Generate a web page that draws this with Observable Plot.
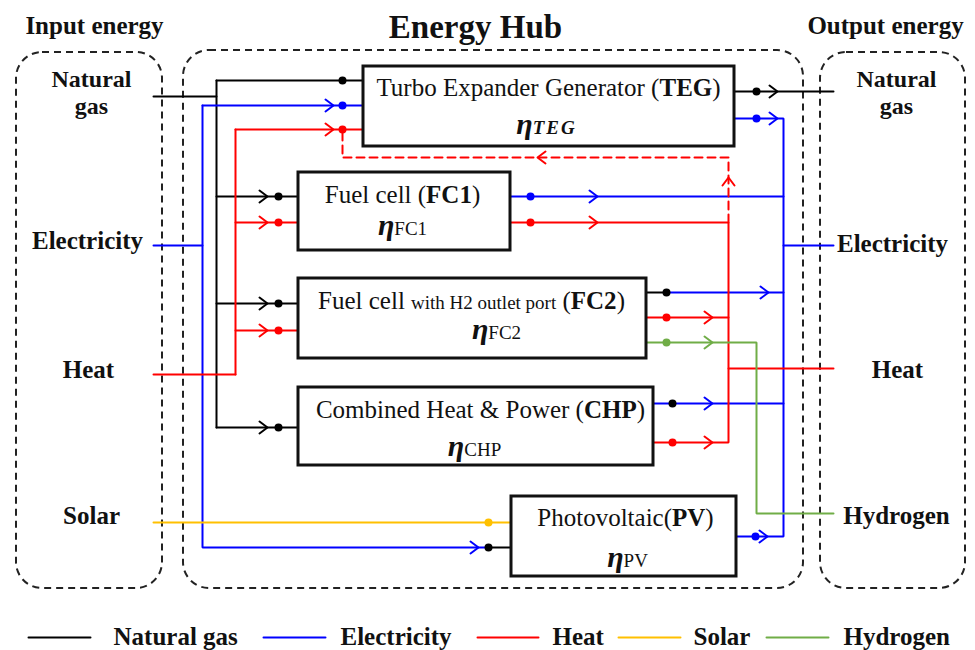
<!DOCTYPE html>
<html><head><meta charset="utf-8">
<script src="https://cdn.jsdelivr.net/npm/d3@7"></script>
<script src="https://cdn.jsdelivr.net/npm/@observablehq/plot@0.6"></script>
<style>body{margin:0;background:#fff}</style>
</head><body><div id="chart"></div>
<script>
// ---------- data ----------
const carriers = ["Natural gas", "Electricity", "Heat", "Solar", "Hydrogen"];
const carrierColors = ["#000000", "#0000ff", "#ff0000", "#ffc000", "#70ad47"];

const titles = ["Input energy", "Energy Hub", "Output energy"];
const gasLabel = "Natural\ngas";
const inputLabels = ["Electricity", "Heat", "Solar"];
const outputLabels = ["Electricity", "Heat", "Hydrogen"];

const moduleNames = [
  "Turbo Expander Generator (**TEG**)",
  "Fuel cell (**FC1**)",
  "Fuel cell ~with H2 outlet port~ (**FC2**)",
  "Combined Heat & Power (**CHP**)",
  "Photovoltaic(**PV**)"
];
const moduleEtas = ["η_[TEG]", "η_{FC1}", "η_{FC2}", "η_{CHP}", "η_{PV}"];

// flow paths by carrier index (diagram coordinates)
const flowPaths = [
  [0, [[153,96],[216,96]]],
  [0, [[216,80],[216,427]]],
  [0, [[216,80],[363,80]]],
  [0, [[216,196],[298,196]]],
  [0, [[216,303],[298,303]]],
  [0, [[216,427],[298,427]]],
  [0, [[488,547],[511,547]]],
  [0, [[734,91],[833,91]]],
  [0, [[646,292],[666,292]]],
  [1, [[153,245],[202,245]]],
  [1, [[202,105],[202,547],[488,547]]],
  [1, [[202,105],[363,105]]],
  [1, [[734,118],[783,118],[783,536],[736,536]]],
  [1, [[510,196],[783,196]]],
  [1, [[666,292],[783,292]]],
  [1, [[653,403],[783,403]]],
  [1, [[783,245],[833,245]]],
  [2, [[153,374],[235,374]]],
  [2, [[235,129],[235,374]]],
  [2, [[235,129],[363,129]]],
  [2, [[235,222],[298,222]]],
  [2, [[235,330],[298,330]]],
  [2, [[510,222],[728,222],[728,442],[653,442]]],
  [2, [[646,317],[728,317]]],
  [2, [[728,368],[833,368]]],
  [3, [[153,522],[511,522]]],
  [4, [[646,342],[756,342],[756,513],[833,513]]]
];
const recyclePath = [[728,222],[728,157],[342,157],[342,129]];

// arrow tips: x, y, direction, carrier
const arrowTips = [
  [333,105,"r",1],[333,129,"r",2],
  [267,196,"r",0],[267,222,"r",2],
  [267,303,"r",0],[267,330,"r",2],
  [267,427,"r",0],[478,547,"r",1],
  [777,91,"r",0],[777,118,"r",1],
  [597,196,"r",1],[597,222,"r",2],
  [768,292,"r",1],[712,317,"r",2],[712,342,"r",4],
  [712,403,"r",1],[712,442,"r",2],
  [767,536,"r",1],
  [728,177,"u",2],[537,157,"l",2]
];
// junction dots: x, y, carrier
const junctionDots = [
  [342,80,0],[278,196,0],[278,303,0],[278,427,0],[488,547,0],[756,91,0],[666,292,0],[672,403,0],
  [342,105,1],[530,196,1],[756,118,1],[755,536,1],
  [342,129,2],[278,222,2],[278,330,2],[530,222,2],[666,317,2],[672,442,2],
  [666,342,4],[488,522,3]
];

// ---------- layout (diagram coordinates) ----------
const frameBoxes = [[16,52,162,588],[183,50,803,588],[820,52,965,588]];
const moduleBoxes = [[363,66,734,146],[298,172,510,250],[298,278,646,358],[298,387,653,465],[511,496,736,576]];
const moduleNamePos = [[548,95],[402,202],[471,308],[480,417],[625,525]];
const moduleEtaPos = [[546,133],[402,234],[496,338],[474,455],[627,566]];
const titlePos = [[94,33,25],[475,37,33],[885,33,25]];
const gasLabelPos = [[91,113],[896,113]];
const inputLabelPos = [[87,248],[88,377],[91,523]];
const outputLabelPos = [[892,251],[897,377],[896,523]];
const legendLinePos = [[28,90],[263,325],[477,538],[618,680],[766,828]];
const legendTextX = [113,340,552,693,843];
const legendLineY = 637, legendTextY = 644;

// ---------- build tables ----------
const lineRows = flowPaths.flatMap(([c, pts], i) =>
  pts.map(([x, y]) => ({id: i, x, y, color: carrierColors[c]})));
const recycleRows = recyclePath.map(([x, y]) => ({x, y}));
const chevron = {r: [[-8,-6],[0,0],[-8,6]], l: [[8,-6],[0,0],[8,6]], u: [[-6,8],[0,0],[6,8]]};
const arrowRows = arrowTips.flatMap(([x, y, d, c], i) =>
  chevron[d].map(([dx, dy]) => ({id: i, x: x + dx, y: y + dy, color: carrierColors[c]})));
const dotRows = junctionDots.map(([x, y, c]) => ({x, y, color: carrierColors[c]}));
const frameRows = frameBoxes.map(([x1,y1,x2,y2]) => ({x1,y1,x2,y2}));
const moduleRows = moduleBoxes.map(([x1,y1,x2,y2]) => ({x1,y1,x2,y2}));
const nameRows = moduleNames.map((t, i) => ({t, x: moduleNamePos[i][0], y: moduleNamePos[i][1]}));
const etaRows = moduleEtas.map((t, i) => ({t, x: moduleEtaPos[i][0], y: moduleEtaPos[i][1]}));
const titleRows = titles.map((t, i) => ({t, x: titlePos[i][0], y: titlePos[i][1], s: titlePos[i][2]}));
const gasRows = gasLabelPos.map(([x, y]) => ({t: gasLabel, x, y}));
const labelRows = [
  ...inputLabels.map((t, i) => ({t, x: inputLabelPos[i][0], y: inputLabelPos[i][1]})),
  ...outputLabels.map((t, i) => ({t, x: outputLabelPos[i][0], y: outputLabelPos[i][1]}))
];
const legendLineRows = carriers.flatMap((c, i) => legendLinePos[i].map(x => ({id: i, x, y: legendLineY, color: carrierColors[i]})));
const legendTextRows = carriers.map((t, i) => ({t, x: legendTextX[i], y: legendTextY}));

const serif = "Liberation Serif, Times New Roman, serif";

const svg = Plot.plot({
  width: 975, height: 650,
  margin: 0,
  x: {domain: [0, 975], range: [0, 975], axis: null},
  y: {domain: [0, 650], range: [0, 650], axis: null},
  color: {type: "identity"},
  marks: [
    Plot.rect(frameRows, {x1: "x1", y1: "y1", x2: "x2", y2: "y2", rx: 26, fill: "none", stroke: "#222", strokeWidth: 2, strokeDasharray: "7,5"}),
    Plot.line(lineRows, {x: "x", y: "y", z: "id", stroke: "color", strokeWidth: 2, strokeLinejoin: "miter"}),
    Plot.line(recycleRows, {x: "x", y: "y", stroke: carrierColors[2], strokeWidth: 2, strokeDasharray: "8,5"}),
    Plot.rect(moduleRows, {x1: "x1", y1: "y1", x2: "x2", y2: "y2", fill: "white", stroke: "#111", strokeWidth: 3}),
    Plot.line(arrowRows, {x: "x", y: "y", z: "id", stroke: "color", strokeWidth: 2}),
    Plot.dot(dotRows, {x: "x", y: "y", r: 4, fill: "color", stroke: "none"}),
    Plot.line(legendLineRows, {x: "x", y: "y", z: "id", stroke: "color", strokeWidth: 2}),
    Plot.text(titleRows, {x: "x", y: "y", text: "t", fontSize: "s", fontFamily: serif, fontWeight: "bold", lineAnchor: "bottom", fill: "#111"}),
    Plot.text(gasRows, {x: "x", y: "y", text: "t", fontSize: 24, lineHeight: 1.12, fontFamily: serif, fontWeight: "bold", lineAnchor: "bottom", fill: "#111"}),
    Plot.text(labelRows, {x: "x", y: "y", text: "t", fontSize: 25, fontFamily: serif, fontWeight: "bold", lineAnchor: "bottom", fill: "#111"}),
    Plot.text(legendTextRows, {x: "x", y: "y", text: "t", fontSize: 25, fontFamily: serif, fontWeight: "bold", lineAnchor: "bottom", textAnchor: "start", fill: "#111"}),
    Plot.text(nameRows, {x: "x", y: "y", text: "t", fontSize: 25, fontFamily: serif, lineAnchor: "bottom", fill: "#111"}),
    Plot.text(etaRows, {x: "x", y: "y", text: "t", fontSize: 30, fontFamily: serif, fontWeight: "bold", fontStyle: "italic", lineAnchor: "bottom", fill: "#111"})
  ]
});

// rich text: **bold**, ~small~, _{upright subscript}, _[bold italic subscript]
const richRe = /(\*\*[^*]+\*\*|~[^~]+~|_\{[^}]+\}|_\[[^\]]+\])/g;
d3.select(svg).selectAll("text").each(function () {
  const s = this.textContent;
  if (!/\*\*|~|_\{|_\[/.test(s)) return;
  const parts = s.split(richRe).filter(p => p);
  this.textContent = "";
  const el = d3.select(this);
  for (const p of parts) {
    const t = el.append("tspan");
    if (p.startsWith("**")) t.text(p.slice(2, -2)).attr("font-weight", "bold");
    else if (p.startsWith("~")) t.text(p.slice(1, -1)).attr("font-size", 19);
    else if (p.startsWith("_{")) t.text(p.slice(2, -1)).attr("font-size", 19).attr("font-weight", "normal").attr("font-style", "normal");
    else if (p.startsWith("_[")) t.text(p.slice(2, -1)).attr("font-size", 19).attr("letter-spacing", 2);
    else t.text(p);
  }
});

document.getElementById("chart").appendChild(svg);
</script>
</body></html>
